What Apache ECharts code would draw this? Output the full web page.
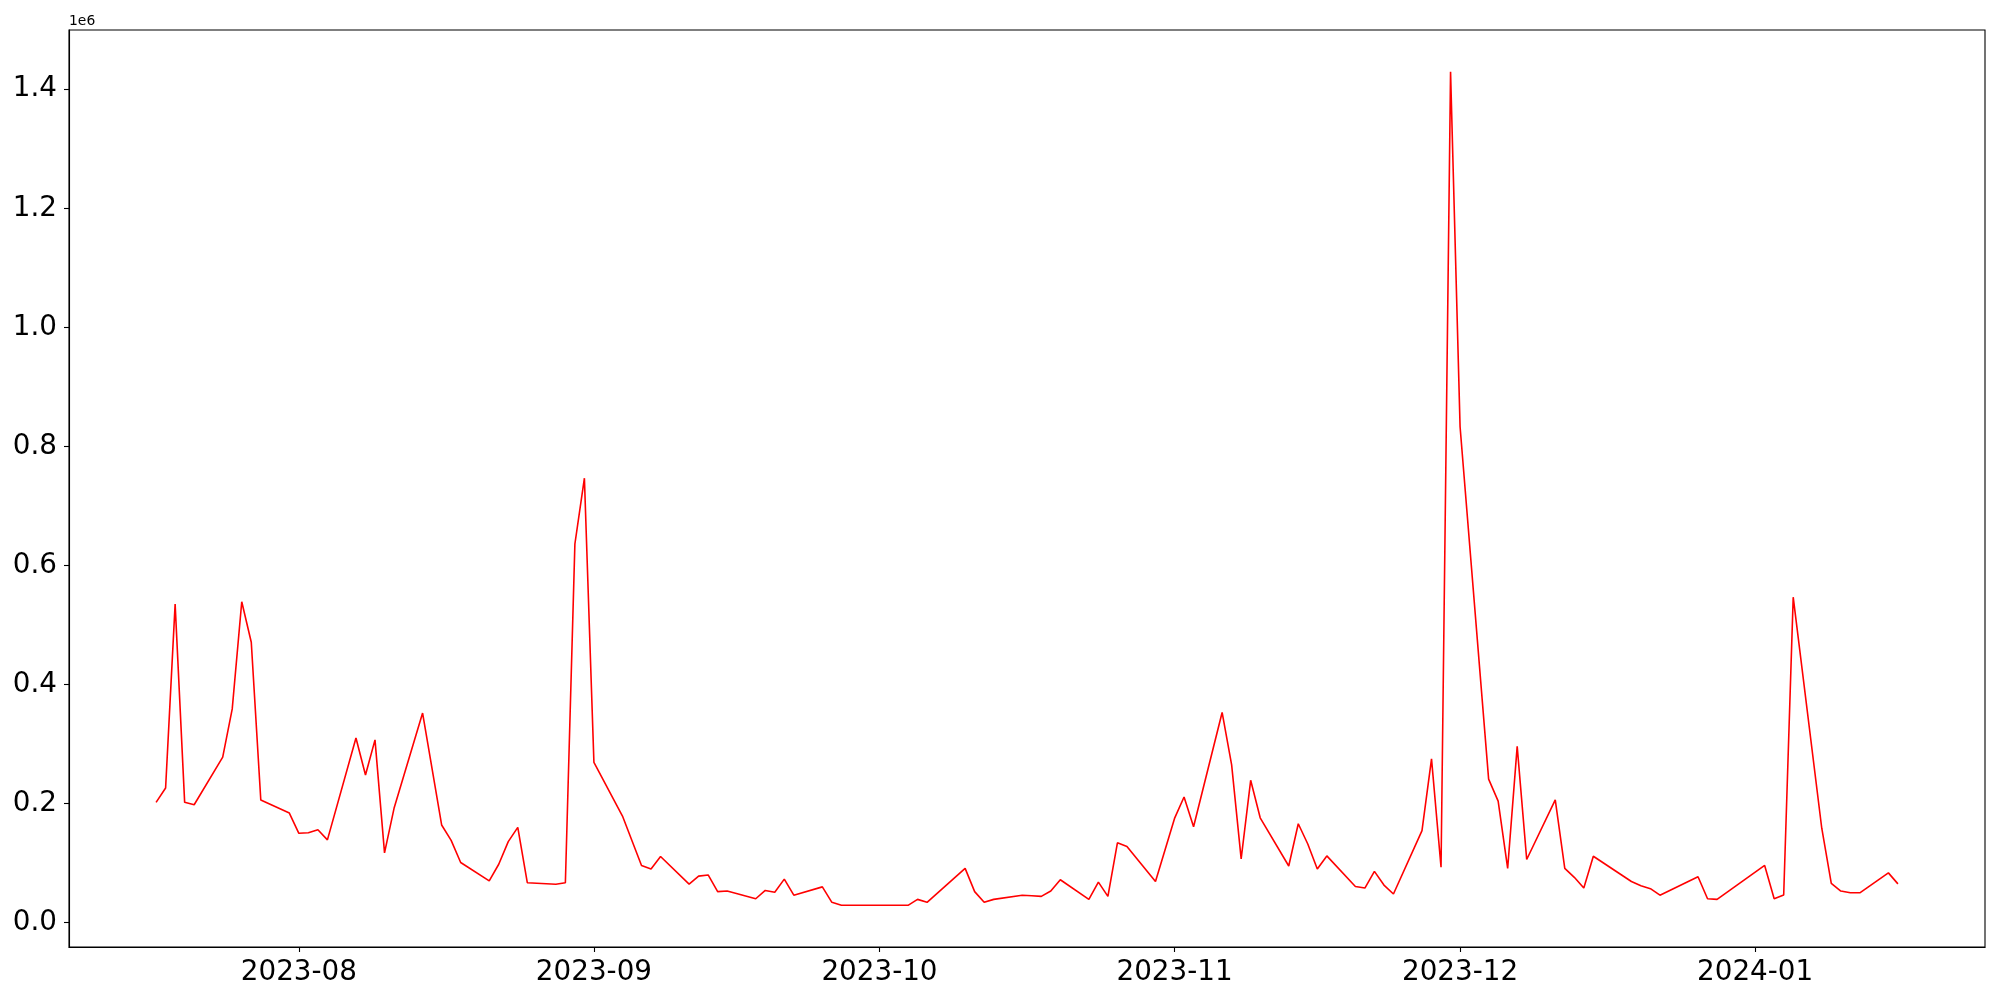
<!DOCTYPE html>
<html>
<head>
<meta charset="utf-8">
<script src="https://cdn.jsdelivr.net/npm/echarts@6/dist/echarts.min.js"></script>
<style>
  html, body { margin: 0; padding: 0; background: #fff; }
  #chart { width: 2000px; height: 1000px; }
</style>
</head>
<body>
<div id="chart"></div>
<script>
// ---- data ----
const dates = [
  '2023-07-17','2023-07-18','2023-07-19','2023-07-20','2023-07-21',
  '2023-07-24','2023-07-25','2023-07-26','2023-07-27','2023-07-28',
  '2023-07-31','2023-08-01','2023-08-02','2023-08-03','2023-08-04',
  '2023-08-07','2023-08-08','2023-08-09','2023-08-10','2023-08-11',
  '2023-08-14','2023-08-16','2023-08-17','2023-08-18',
  '2023-08-21','2023-08-22','2023-08-23','2023-08-24','2023-08-25',
  '2023-08-28','2023-08-29','2023-08-30','2023-08-31','2023-09-01',
  '2023-09-04','2023-09-06','2023-09-07','2023-09-08',
  '2023-09-11','2023-09-12','2023-09-13','2023-09-14','2023-09-15',
  '2023-09-18','2023-09-19','2023-09-20','2023-09-21','2023-09-22',
  '2023-09-25','2023-09-26','2023-09-27',
  '2023-10-04','2023-10-05','2023-10-06',
  '2023-10-10','2023-10-11','2023-10-12','2023-10-13',
  '2023-10-16','2023-10-17','2023-10-18','2023-10-19','2023-10-20',
  '2023-10-23','2023-10-24','2023-10-25','2023-10-26','2023-10-27',
  '2023-10-30','2023-11-01','2023-11-02','2023-11-03',
  '2023-11-06','2023-11-07','2023-11-08','2023-11-09','2023-11-10',
  '2023-11-13','2023-11-14','2023-11-15','2023-11-16','2023-11-17',
  '2023-11-20','2023-11-21','2023-11-22','2023-11-23','2023-11-24',
  '2023-11-27','2023-11-28','2023-11-29','2023-11-30','2023-12-01',
  '2023-12-04','2023-12-05','2023-12-06','2023-12-07','2023-12-08',
  '2023-12-11','2023-12-12','2023-12-13','2023-12-14','2023-12-15',
  '2023-12-19','2023-12-20','2023-12-21','2023-12-22',
  '2023-12-26','2023-12-27','2023-12-28',
  '2024-01-02','2024-01-03','2024-01-04','2024-01-05',
  '2024-01-08','2024-01-09','2024-01-10','2024-01-11','2024-01-12',
  '2024-01-15','2024-01-16'
];
const values = [
  202000, 226000, 535000, 202000, 198000,
  278000, 359000, 539000, 471000, 206000,
  184000, 150000, 151000, 156000, 139000,
  310000, 248000, 307000, 117000, 192000,
  352000, 164000, 138000, 101000,
  70000, 98000, 136000, 160000, 67000,
  64500, 67000, 636000, 746500, 269000,
  179000, 96000, 90000, 111000,
  64500, 78000, 80000, 52000, 53000,
  40000, 54000, 51000, 73000, 46000,
  60000, 34000, 29000,
  29000, 39000, 34000,
  91000, 52000, 34000, 39000,
  46000, 45000, 44000, 53000, 72000,
  39000, 68000, 44000, 134000, 128000,
  69000, 175000, 211000, 161000,
  353000, 265000, 107000, 239000, 176000,
  95000, 166000, 132000, 90000, 112000,
  60500, 58000, 86000, 63000, 48000,
  154500, 275000, 93000, 1429500, 833000,
  241000, 204000, 91000, 296000, 106000,
  206000, 91000, 76000, 58000, 111500,
  69000, 62000, 57000, 46000,
  77000, 40000, 39000,
  96000, 40000, 46500, 546600,
  158500, 66000, 53000, 50000, 50000,
  83500, 65000
];
const xTickDates = ['2023-08-01','2023-09-01','2023-10-01','2023-11-01','2023-12-01','2024-01-01'];
const yTickValues = [0, 200000, 400000, 600000, 800000, 1000000, 1200000, 1400000];
const offsetLabel = '1e6';

// ---- helpers ----
function parseLocal(s) {
  const p = s.split('-').map(Number);
  return new Date(p[0], p[1] - 1, p[2]).getTime();
}
const xs = dates.map(parseLocal);
const xFirst = xs[0], xLast = xs[xs.length - 1];
const xPad = (xLast - xFirst) * 0.05;
const vMin = Math.min.apply(null, values), vMax = Math.max.apply(null, values);
const yPad = (vMax - vMin) * 0.05;

const seriesData = xs.map((t, i) => [t, values[i]]);
const xTicks = xTickDates.map(parseLocal);
function pad2(n) { return (n < 10 ? '0' : '') + n; }

const chart = echarts.init(document.getElementById('chart'), null, { renderer: 'canvas' });
const FONT = 'DejaVu Sans';
chart.setOption({
  animation: false,
  backgroundColor: '#ffffff',
  textStyle: { fontFamily: FONT },
  grid: {
    left: 69, right: 15, top: 30, bottom: 53,
    show: true, borderColor: '#000', borderWidth: 1.1, backgroundColor: 'transparent'
  },
  graphic: [{
    type: 'text', left: 69, top: 14,
    style: { text: offsetLabel, font: '13.9px "DejaVu Sans"', fill: '#000' }
  }],
  xAxis: {
    type: 'value',
    min: xFirst - xPad,
    max: xLast + xPad,
    scale: true,
    axisLine: { show: true, onZero: false, lineStyle: { color: '#000', width: 1.1 } },
    axisTick: { show: true, length: 5, lineStyle: { color: '#000', width: 1.1 }, customValues: xTicks },
    axisLabel: {
      show: true, margin: 12, fontSize: 27.8, fontFamily: FONT, color: '#000',
      customValues: xTicks,
      formatter: function (v) { const d = new Date(v); return d.getFullYear() + '-' + pad2(d.getMonth() + 1); }
    },
    splitLine: { show: false },
    minorTick: { show: false }
  },
  yAxis: {
    type: 'value',
    min: vMin - yPad,
    max: vMax + yPad,
    axisLine: { show: true, onZero: false, lineStyle: { color: '#000', width: 1.1 } },
    axisTick: { show: true, length: 5, lineStyle: { color: '#000', width: 1.1 }, customValues: yTickValues },
    axisLabel: {
      show: true, margin: 12, fontSize: 27.8, fontFamily: FONT, color: '#000',
      padding: [5, 0, 0, 0],
      customValues: yTickValues,
      formatter: function (v) { return (v / 1e6).toFixed(1); }
    },
    splitLine: { show: false }
  },
  series: [{
    type: 'line',
    data: seriesData,
    showSymbol: false,
    symbol: 'none',
    smooth: false,
    lineStyle: { color: '#ff0000', width: 1.6 },
    itemStyle: { color: '#ff0000' }
  }]
});
</script>
</body>
</html>
